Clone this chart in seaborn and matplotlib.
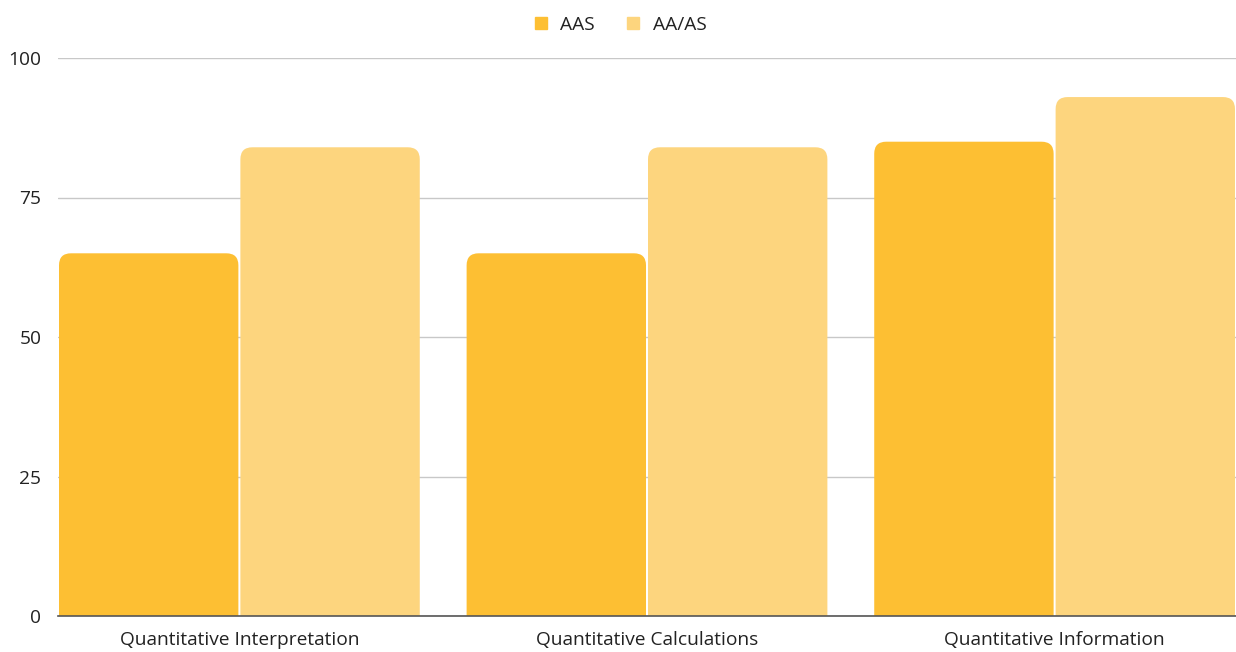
import matplotlib
matplotlib.use("Agg")
import matplotlib.pyplot as plt
from matplotlib.patches import FancyBboxPatch
from matplotlib.lines import Line2D
import numpy as np
import pandas as pd
import seaborn as sns

categories = ["Quantitative Interpretation", "Quantitative Calculations", "Quantitative Information"]
series = ["AAS", "AA/AS"]
aas = [65, 65, 85]
aa_as = [84, 84, 93]
colors = ["#FDBF33", "#FDD57E"]

df = pd.DataFrame({
    "category": categories * 2,
    "group": [series[0]] * 3 + [series[1]] * 3,
    "score": aas + aa_as,
})

sns.set_style("white")
plt.rcParams["font.family"] = ["Open Sans", "DejaVu Sans"]

fig = plt.figure(figsize=(12.36, 6.52), dpi=100)
ax = fig.add_axes([58 / 1236, 36 / 652, 1178 / 1236, 558 / 652])

sns.barplot(
    data=df, x="category", y="score", hue="group",
    palette=colors, saturation=1, width=0.89, legend=False, ax=ax,
)

ax.set_xlim(-0.445, 2.445)
ax.set_ylim(0, 100)
ax.set_yticks([0, 25, 50, 75, 100])

# swap the square bars for ones with rounded tops
fig.canvas.draw()
px_x = ax.transData.transform((1, 0))[0] - ax.transData.transform((0, 0))[0]
px_y = ax.transData.transform((0, 1))[1] - ax.transData.transform((0, 0))[1]
radius = 12 / px_x
aspect = px_x / px_y
for p in list(ax.patches):
    x, w, h = p.get_x(), p.get_width(), p.get_height()
    fc = p.get_facecolor()
    p.remove()
    gap = 1 / px_x
    box = FancyBboxPatch(
        (x + gap, -5), w - 2 * gap, h + 5,
        boxstyle=f"round,pad=0,rounding_size={radius}",
        mutation_aspect=aspect, facecolor=fc, edgecolor="none", zorder=2,
    )
    ax.add_patch(box)

ax.grid(axis="y", color="#c8c8c8", linewidth=1, zorder=0)
ax.set_axisbelow(True)
for s in ["top", "right", "left"]:
    ax.spines[s].set_visible(False)
ax.spines["bottom"].set_color("#555555")
ax.spines["bottom"].set_linewidth(1.2)
ax.spines["bottom"].set_zorder(3)

ax.set_xlabel("")
ax.set_ylabel("")
ax.tick_params(axis="both", length=0, labelsize=13.8, labelcolor="#222222")
ax.tick_params(axis="y", pad=12)
ax.tick_params(axis="x", pad=11)
for lbl in ax.get_yticklabels():
    lbl.set_horizontalalignment("right")

handles = [
    Line2D([], [], marker="s", linestyle="none", markersize=8,
           markerfacecolor=c, markeredgecolor=c, label=s)
    for s, c in zip(series, colors)
]
fig.legend(
    handles=handles, loc="center", bbox_to_anchor=(0.5, 1 - 25 / 652),
    ncol=2, frameon=False, fontsize=13.8, handletextpad=0.4,
    handlelength=1.2, columnspacing=1.4, labelcolor="#222222",
)

fig.savefig("out.png", dpi=100)
